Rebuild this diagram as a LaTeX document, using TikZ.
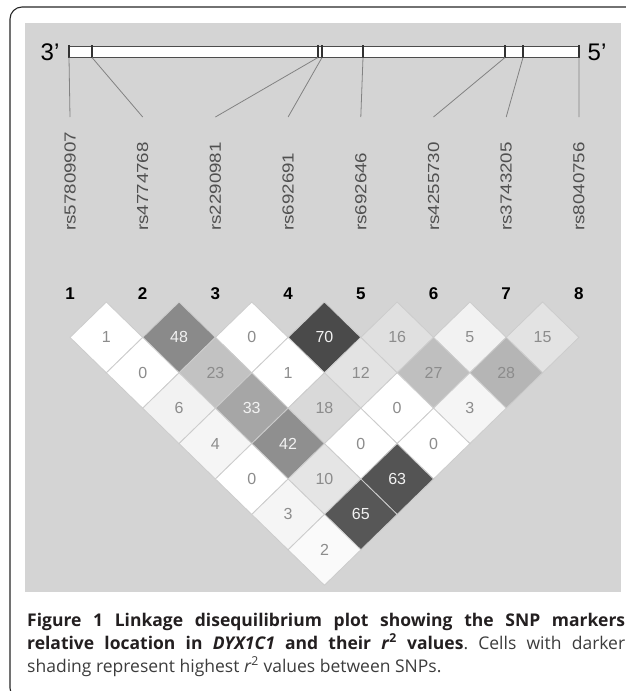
\documentclass[tikz,border=0pt]{standalone}
\usepackage{fontspec}
\usepackage{graphicx}
\setmainfont{Liberation Sans}
\newfontfamily\capfont{Open Sans}
\frenchspacing
\definecolor{panelgray}{RGB}{212,212,212}
\definecolor{snpgray}{RGB}{80,80,80}
\definecolor{leadgray}{RGB}{130,130,130}
\definecolor{captext}{RGB}{35,31,32}
\definecolor{capreg}{RGB}{60,60,60}
\tikzset{
  frame/.style={rounded corners=12pt, line width=1.1pt, draw=black!85},
  bar/.style={draw=black!70, line width=0.8pt, fill=white},
  tickmark/.style={draw=black!80, line width=1.3pt},
  lead/.style={draw=leadgray, line width=0.8pt},
  snp/.style={rotate=90, anchor=west, inner sep=0pt, text=snpgray, font=\fontsize{16}{16}\selectfont},
  num/.style={inner sep=0pt, font=\bfseries\fontsize{17}{17}\selectfont},
  prime/.style={inner sep=0pt, font=\fontsize{24}{24}\selectfont},
  cell/.style={draw=black!20, line width=0.8pt},
  celltext/.style={inner sep=0pt, font=\fontsize{16}{16}\selectfont},
  capline/.style={anchor=base west, inner sep=0pt, font=\capfont\frenchspacing\fontsize{17.5}{23}\selectfont, text=captext},
}
\begin{document}
\begin{tikzpicture}[x=1pt,y=-1pt]
\useasboundingbox (0,0) rectangle (625,691);
\draw[frame] (10,7) rectangle (640,700);
\fill[panelgray] (25,23) rectangle (621,592);
% bar
\draw[bar] (69,46) rectangle (579,57);
\node[prime] (p3) at (50,52) {3’};
\node[prime] (p5) at (597,52) {5’};
% ticks, leads, labels
\foreach \k/\t/\lx/\name in {1/69/70/rs57809907, 2/92/142.7/rs4774768, 3/318/215.4/rs2290981, 4/322/288.1/rs692691, 5/363/360.8/rs692646, 6/505/433.5/rs4255730, 7/523/506.2/rs3743205, 8/579/578.9/rs8040756}{
  \draw[tickmark] (\t,45) -- (\t,58);
  \coordinate (t\k) at (\t,57.5);
  \coordinate (e\k) at (\lx,117);
  \draw[lead] (t\k) -- (e\k);
  \node[snp] (L\k) at (\lx,231) {\scalebox{1.17}[1]{\name}};
  \node[num] (n\k) at (\lx,294) {\k};
}
% LD diamonds
\def\hw{36.35}
\def\hh{35.4}
\foreach \i/\j/\v/\p in {1/2/1/0, 2/3/48/46, 3/4/0/0, 4/5/70/71, 5/6/16/12, 6/7/5/5, 7/8/15/11,
  1/3/0/0, 2/4/23/24, 3/5/1/0, 4/6/12/11, 5/7/27/25, 6/8/28/29,
  1/4/6/5, 2/5/33/35, 3/6/18/15, 4/7/0/0, 5/8/3/4,
  1/5/4/4, 2/6/42/44, 3/7/0/0, 4/8/0/0,
  1/6/0/0, 2/7/10/10, 3/8/63/67,
  1/7/3/4, 2/8/65/66,
  1/8/2/2}{
  \pgfmathsetmacro{\cx}{70+72.7*((\i+\j)/2-1)}
  \pgfmathsetmacro{\cy}{337.4+35.4*(\j-\i-1)}
  \pgfmathsetmacro{\tc}{ifthenelse(\p>30,5,45)}
  \draw[cell, fill=black!\p] (\cx,\cy-\hh) -- (\cx+\hw,\cy) -- (\cx,\cy+\hh) -- (\cx-\hw,\cy) -- cycle;
  \node[celltext, text=black!\tc] (d\i\j) at (\cx,\cy) {\v};
}
% caption
\node[capline] (cap1) at (27,626) {\makebox[598pt][s]{\bfseries Figure 1 Linkage disequilibrium plot showing the SNP markers}};
\node[capline] (cap2) at (27,649) {\makebox[598pt][s]{\bfseries relative location in \textit{DYX1C1} and their \textit{r}\textsuperscript{2} values\mdseries\color{capreg}. Cells with darker}};
\node[capline, text=capreg] (cap3) at (27,672) {shading represent highest \textit{r}\textsuperscript{2} values between SNPs.};
\end{tikzpicture}
\end{document}
